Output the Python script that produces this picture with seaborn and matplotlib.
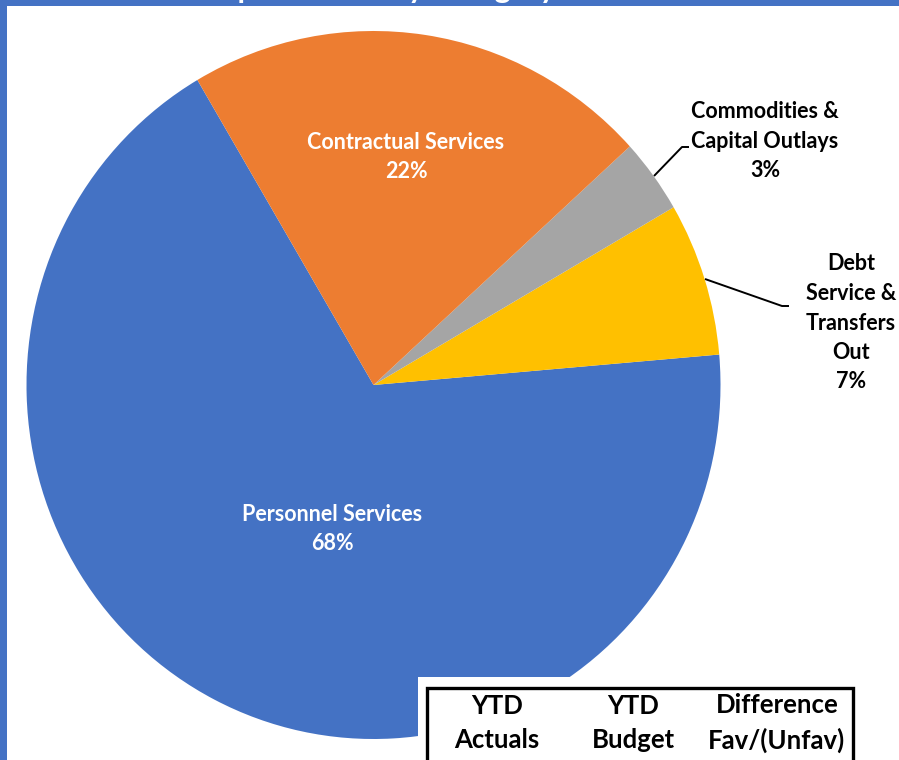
import matplotlib
matplotlib.use("Agg")
import matplotlib.pyplot as plt
import seaborn as sns
from matplotlib.patches import Rectangle

categories = ["Personnel Services", "Debt\nService &\nTransfers\nOut",
              "Commodities &\nCapital Outlays", "Contractual Services"]
shares = [67.9, 7.0, 3.4, 21.7]
pct_labels = ["68%", "7%", "3%", "22%"]
colors = ["#4472C4", "#FFC000", "#A5A5A5", "#ED7D31"]
table_headers = ["YTD\nActuals", "YTD\nBudget", "Difference\nFav/(Unfav)"]
title = "Expenditures by Category"

sns.set_theme(style="white")
plt.rcParams["font.family"] = ["Lato", "DejaVu Sans"]

W, H = 899, 760
fig = plt.figure(figsize=(W / 100, H / 100), dpi=100)
fig.patch.set_facecolor("white")
ax = fig.add_axes([0, 0, 1, 1])

CX, CY, RX, RY = 373.5, 385, 347, 354


def p2d(x, y):
    return ((x - CX) / RX, (CY - y) / RY)


def fx(x):
    return x / W


def fy(y):
    return 1 - y / H


wedges, _ = ax.pie(shares, colors=colors, startangle=120.5, counterclock=True,
                   wedgeprops=dict(linewidth=0, antialiased=True))
ax.set_aspect("auto")
x0, _ = p2d(0, 0)
x1, _ = p2d(W, 0)
_, y0 = p2d(0, H)
_, y1 = p2d(0, 0)
ax.set_xlim(x0, x1)
ax.set_ylim(y0, y1)
ax.axis("off")

txtkw = dict(fontweight="bold", ha="center", va="center", linespacing=1.5)
FS = 15.5

# inside labels
ax.text(*p2d(406, 157), f"{categories[3]}\n{pct_labels[3]}", color="white",
        fontsize=FS, **txtkw)
ax.text(*p2d(332, 529), f"{categories[0]}\n{pct_labels[0]}", color="white",
        fontsize=FS, **txtkw)

# outside labels with leader lines
ax.text(*p2d(765, 141), f"{categories[2]}\n{pct_labels[2]}", color="black",
        fontsize=FS, **txtkw)
xs, ys = zip(p2d(654, 176), p2d(682, 147), p2d(689, 147))
ax.plot(xs, ys, color="black", lw=1.4, solid_capstyle="butt")

ax.text(*p2d(851, 323), f"{categories[1]}\n{pct_labels[1]}", color="black",
        fontsize=FS, **txtkw)
xs, ys = zip(p2d(705, 279), p2d(782, 306), p2d(789, 306))
ax.plot(xs, ys, color="black", lw=1.4, solid_capstyle="butt")

# white cover box and table box
fig.patches.append(Rectangle((fx(418), 0), fx(W) - fx(418), fy(677),
                             transform=fig.transFigure, facecolor="white",
                             edgecolor="none", zorder=5))
fig.patches.append(Rectangle((fx(427), fy(775)), fx(853) - fx(427), fy(688) - fy(775),
                             transform=fig.transFigure, facecolor="white",
                             edgecolor="black", linewidth=2.4, zorder=6))
for xc, hdr in zip([497, 633, 777], table_headers):
    fig.text(fx(xc), fy(723), hdr, fontsize=18.5, fontweight="bold", color="black",
             ha="center", va="center", linespacing=1.5, zorder=7)

# blue frame
fig.patches.append(Rectangle((0, fy(6)), 1, fy(0) - fy(6), transform=fig.transFigure,
                             facecolor="#4472C4", edgecolor="none", zorder=8))
fig.patches.append(Rectangle((0, 0), fx(7), 1, transform=fig.transFigure,
                             facecolor="#4472C4", edgecolor="none", zorder=8))
fig.text(fx(380), fy(-2), title, fontsize=22, fontweight="bold", color="white",
         ha="center", va="baseline", zorder=9)

fig.savefig("out.png", dpi=100)
